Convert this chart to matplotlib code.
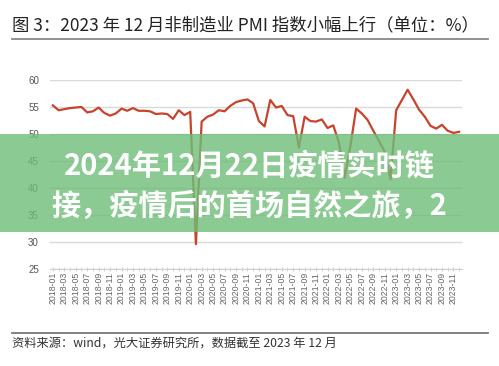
import matplotlib
matplotlib.use("Agg")
from matplotlib import pyplot as plt
from matplotlib.patches import Rectangle
import numpy as np
import pandas as pd

plt.rcParams['font.family'] = ['Noto Sans CJK SC', 'DejaVu Sans']

# China non-manufacturing PMI, monthly 2018-01 .. 2023-12
pmi_2018 = [55.3, 54.4, 54.6, 54.8, 54.9, 55.0, 54.0, 54.2, 54.9, 53.9, 53.4, 53.8]
pmi_2019 = [54.7, 54.3, 54.8, 54.3, 54.3, 54.2, 53.7, 53.8, 53.7, 52.8, 54.4, 53.5]
pmi_2020 = [54.1, 29.6, 52.3, 53.2, 53.6, 54.4, 54.2, 55.2, 55.9, 56.2, 56.4, 55.7]
pmi_2021 = [52.4, 51.4, 56.3, 54.9, 55.2, 53.5, 53.3, 47.5, 53.2, 52.4, 52.3, 52.7]
pmi_2022 = [51.1, 51.6, 48.4, 41.9, 47.8, 54.7, 53.8, 52.6, 50.6, 48.7, 46.7, 41.6]
pmi_2023 = [54.4, 56.3, 58.2, 56.4, 54.5, 53.2, 51.5, 51.0, 51.7, 50.6, 50.2, 50.4]

months = pd.date_range("2018-01", "2023-12", freq="MS").strftime("%Y-%m").tolist()
pmi = pmi_2018 + pmi_2019 + pmi_2020 + pmi_2021 + pmi_2022 + pmi_2023
y_ticks = [25, 30, 35, 40, 45, 50, 55, 60]

title = "图 3：2023 年 12 月非制造业 PMI 指数小幅上行（单位：%）"
source = "资料来源：wind，光大证券研究所，数据截至 2023 年 12 月"
banner_lines = ["2024年12月22日疫情实时链", "接，疫情后的首场自然之旅，2"]

W, H = 499, 366
fig = plt.figure(figsize=(W / 100, H / 100), dpi=100)
fig.patch.set_facecolor("white")

def fx(px):
	return px / W

def fy(py):
	return 1 - py / H

ax = fig.add_axes([fx(50), fy(269), fx(462) - fx(50), fy(80) - fy(269)])
x = np.arange(len(months))
ax.plot(x, pmi, color="#c8432b", lw=1.6, zorder=3)

ax.set_xlim(-0.5, len(months) - 0.5)
ax.set_ylim(25, 60)
ax.set_yticks(y_ticks)
ax.set_yticklabels([str(v) for v in y_ticks], family="Liberation Sans", fontsize=7, color="#555555")
ax.tick_params(axis="y", length=0, pad=8)
ax.grid(axis="y", color="#d9d9d9", lw=1)
ax.set_axisbelow(True)

ax.set_xticks(x[::2])
ax.set_xticklabels(months[::2], rotation=90, family="Liberation Sans", fontsize=6.3, color="#666666")
ax.set_xticks(x, minor=True)
ax.tick_params(axis="x", which="both", length=2.5, color="#d0d0d0", direction="inout", pad=1)

for side in ["top", "left", "right"]:
	ax.spines[side].set_visible(False)
ax.spines["bottom"].set_color("#d0d0d0")

# header and footer
fig.text(fx(12), fy(25), title, fontsize=12.5, color="#222222", va="center", ha="left")
fig.add_artist(plt.Line2D([fx(12), fx(488)], [fy(39), fy(39)], color="#888888", lw=1.3))
fig.add_artist(plt.Line2D([fx(12), fx(488)], [fy(333), fy(333)], color="#777777", lw=1.3))
fig.text(fx(12), fy(343), source, fontsize=8.8, color="#333333", va="center", ha="left")

# green overlay banner
fig.add_artist(Rectangle((0, fy(232)), 1, fy(134) - fy(232), transform=fig.transFigure,
	facecolor="#6ebe78", alpha=0.8, edgecolor="none", zorder=5))
fig.text(0.5, fy(166), banner_lines[0], fontsize=21, color="white", fontweight="bold",
	ha="center", va="center", zorder=6)
fig.text(0.5, fy(206), banner_lines[1], fontsize=21, color="white", fontweight="bold",
	ha="center", va="center", zorder=6)

fig.savefig("out.png", dpi=100)
